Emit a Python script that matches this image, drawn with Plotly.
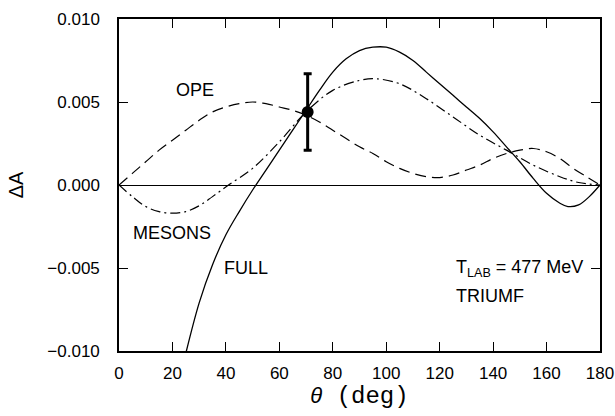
import plotly.graph_objects as go

# Angle grid (deg) and asymmetry values for each model curve
ope_theta = [0, 5, 10, 15, 20, 25, 30, 35, 40, 45, 50, 55, 60, 65, 70, 75, 80, 85, 90, 95, 100, 105, 110,
             115, 120, 125, 130, 135, 140, 145, 150, 155, 160, 165, 170, 175, 180]
ope_dA = [0, 0.0007, 0.0014, 0.0021, 0.0027, 0.0033, 0.0039, 0.0044, 0.0047, 0.0049, 0.0050, 0.0049, 0.0047,
          0.0045, 0.0042, 0.0038, 0.0033, 0.0028, 0.0023, 0.0019, 0.0014, 0.0010, 0.0007,
          0.0005, 0.00045, 0.0006, 0.0009, 0.0012, 0.0016, 0.0019, 0.0021, 0.0022, 0.0020, 0.0016, 0.0010, 0.0005, 0]

mes_theta = [0, 5, 10, 15, 20, 25, 30, 35, 41, 50, 60, 70, 80, 90, 96, 105, 115, 125, 135, 145, 155, 165, 172, 180]
mes_dA = [0, -0.0007, -0.0013, -0.0016, -0.0017, -0.0016, -0.00125, -0.0007, 0, 0.0010, 0.0026, 0.0044,
          0.0057, 0.0063, 0.0064, 0.0061, 0.0052, 0.0041, 0.0030, 0.0021, 0.0012, 0.0005, 0.00015, 0]

full_theta = [24, 30, 35, 40, 45, 50, 55, 60, 65, 70, 75, 80, 85, 90, 95, 100, 105, 110, 115, 120, 125,
              130, 135, 140, 145, 150, 155, 160, 165, 168, 172, 176, 180]
full_dA = [-0.0108, -0.0071, -0.0048, -0.0030, -0.0016, -0.0003, 0.0009, 0.0021, 0.0033, 0.0045, 0.0057,
           0.0068, 0.0076, 0.0081, 0.0083, 0.0083, 0.0080, 0.0075, 0.0068, 0.0061, 0.0054,
           0.0047, 0.0040, 0.0032, 0.0023, 0.0014, 0.0004, -0.0005, -0.0011, -0.0013, -0.0012, -0.0007, 0]

# TRIUMF measurement
exp_theta = [70.6]
exp_dA = [0.0044]
exp_err = [0.0023]

x_ticks = [0, 20, 40, 60, 80, 100, 120, 140, 160, 180]
y_ticks = [-0.010, -0.005, 0.0, 0.005, 0.010]

FONT = "Liberation Sans, Arial, sans-serif"

fig = go.Figure()

fig.add_trace(go.Scatter(x=ope_theta, y=ope_dA, mode="lines", line_shape="spline",
                         line=dict(color="black", width=1.2, dash="11px,6px"), name="OPE"))
fig.add_trace(go.Scatter(x=mes_theta, y=mes_dA, mode="lines", line_shape="spline",
                         line=dict(color="black", width=1.2, dash="10px,4px,2px,4px"), name="MESONS"))
fig.add_trace(go.Scatter(x=full_theta, y=full_dA, mode="lines", line_shape="spline",
                         line=dict(color="black", width=1.3), name="FULL"))
fig.add_trace(go.Scatter(x=exp_theta, y=exp_dA, mode="markers",
                         marker=dict(color="black", size=12),
                         error_y=dict(type="data", array=exp_err, color="black", thickness=3, width=4),
                         name="TRIUMF"))

label_font = dict(family=FONT, size=18, color="black")
fig.add_annotation(x=28.5, y=0.0057, text="OPE", showarrow=False, font=label_font)
fig.add_annotation(x=20, y=-0.0029, text="MESONS", showarrow=False, font=label_font)
fig.add_annotation(x=47.5, y=-0.0050, text="FULL", showarrow=False, font=label_font)
fig.add_annotation(x=125.5, y=-0.0050, text="T<sub>LAB</sub> = 477 MeV", showarrow=False,
                   xanchor="left", font=label_font)
fig.add_annotation(x=125.5, y=-0.0067, text="TRIUMF", showarrow=False,
                   xanchor="left", font=label_font)

fig.update_layout(
    width=615, height=416,
    margin=dict(l=119, r=15, t=19, b=65),
    paper_bgcolor="white", plot_bgcolor="white",
    showlegend=False,
    font=dict(family=FONT, size=17, color="black"),
)

fig.update_xaxes(
    range=[0, 180], tickvals=x_ticks, ticks="inside", ticklen=9, tickwidth=1.3,
    tickcolor="black", showline=True, linewidth=1.5, linecolor="black", mirror="ticks",
    showgrid=False, zeroline=False, ticklabelstandoff=6, automargin=False,
    title=dict(text="<i>θ</i><span style='font-family:Liberation Mono, Courier New, monospace;font-size:24px'>"
                    " (deg)</span>",
               font=dict(size=22, family=FONT), standoff=4),
)
fig.update_yaxes(
    range=[-0.010, 0.010], tickvals=y_ticks, tickformat=".3f", ticks="inside", ticklen=9,
    tickwidth=1.3, tickcolor="black", showline=True, linewidth=1.5, linecolor="black",
    mirror="ticks", showgrid=False, zeroline=True, zerolinecolor="black", zerolinewidth=1.2,
    ticklabelstandoff=14, automargin=False,
    title=dict(text="ΔA", font=dict(size=20, family=FONT), standoff=18),
)

fig.write_html("out.html")
